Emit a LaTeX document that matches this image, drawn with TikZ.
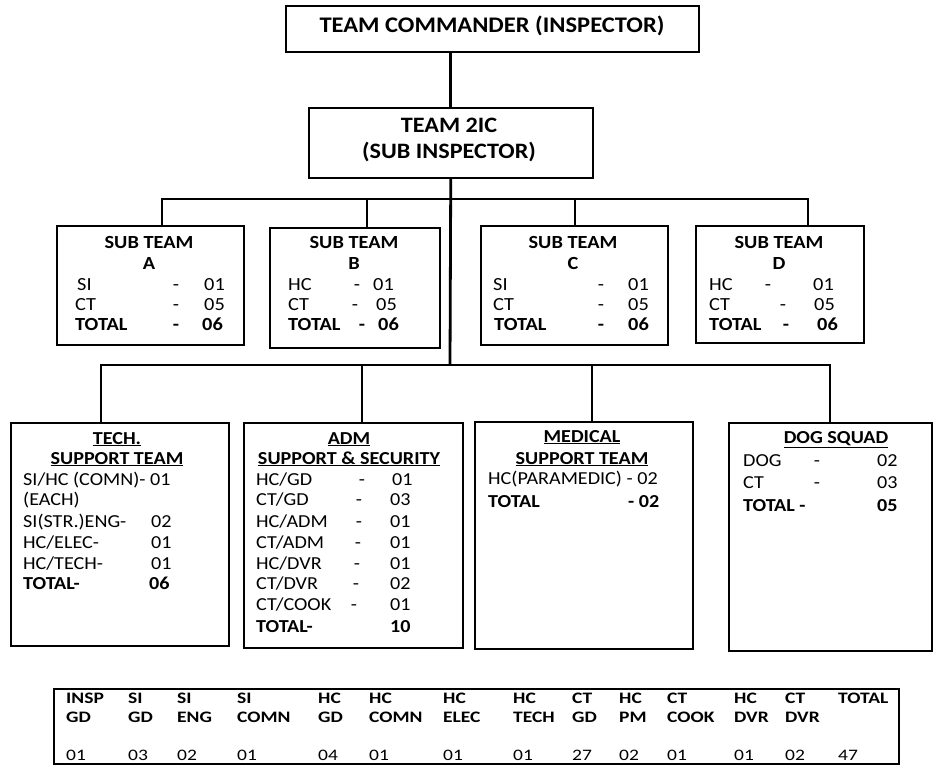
\documentclass[tikz,border=0pt]{standalone}
\usepackage{fontspec}
\setmainfont{Carlito}[FakeStretch=1.1]
\usetikzlibrary{calc}
\newcommand\fTitle{\fontsize{22.3}{26}\selectfont\bfseries}
\newcommand\fIC{\fontsize{22}{25}\selectfont\bfseries}
\newcommand\fSub{\fontsize{18.5}{21}\selectfont}
\newcommand\fBody{\fontsize{18.3}{21}\selectfont}
\newcommand\fTab{\fontsize{16}{18}\selectfont\addfontfeature{FakeStretch=1.22}}
\tikzset{
  box/.style={draw, line width=1.5pt, inner sep=0pt, anchor=north west},
  conn/.style={line width=2.8pt},
  sx/.style={inner sep=0pt, anchor=base west, font=\fSub},
  sc/.style={inner sep=0pt, anchor=base, font=\fSub},
  bx/.style={inner sep=0pt, anchor=base west, font=\fBody},
  bc/.style={inner sep=0pt, anchor=base, font=\fBody},
  tb/.style={inner sep=0pt, anchor=base west, font=\fTab},
}
\begin{document}
\begin{tikzpicture}[x=1pt,y=-1pt]
\useasboundingbox (0,0) rectangle (934,766);
% boxes
\node[box, minimum width=413pt, minimum height=46pt] (top) at (285,5) {};
\node[box, minimum width=284pt, minimum height=70pt] (ic) at (308,107) {};
\node[box, minimum width=187pt, minimum height=119pt] (sa) at (56,225) {};
\node[box, minimum width=170pt, minimum height=120pt] (sb) at (269,227) {};
\node[box, minimum width=187pt, minimum height=119pt] (sc) at (480,225) {};
\node[box, minimum width=168pt, minimum height=117pt] (sd) at (695,225) {};
\node[box, minimum width=218pt, minimum height=223pt] (tech) at (10,422) {};
\node[box, minimum width=219pt, minimum height=225pt] (adm) at (243,422) {};
\node[box, minimum width=218pt, minimum height=227pt] (med) at (474,421) {};
\node[box, minimum width=203pt, minimum height=228pt] (dog) at (728,422) {};
\node[box, minimum width=845pt, minimum height=75pt] (tab) at (53,688) {};
% connectors
\coordinate (bus1) at (450,199);
\coordinate (bus2) at (450,365);
\draw[conn] (top.south -| ic.north) -- (ic.north);
\draw[conn] (ic.south) -- (bus2);
\draw[conn] ([xshift=106pt]sa.north west) |- (bus1) -| ([xshift=113pt]sd.north west);
\draw[conn] ([xshift=98pt]sb.north west) -- ([xshift=98pt]sb.north west |- bus1);
\draw[conn] ([xshift=95pt]sc.north west) -- ([xshift=95pt]sc.north west |- bus1);
\draw[conn] ([xshift=91pt]tech.north west) |- (bus2) -| ([xshift=102pt]dog.north west);
\draw[conn] ([xshift=119pt]adm.north west) -- ([xshift=119pt]adm.north west |- bus2);
\draw[conn] ([xshift=118pt]med.north west) -- ([xshift=118pt]med.north west |- bus2);
% top texts
\node[inner sep=0pt, anchor=base, font=\fTitle] (t1) at (492,32) {TEAM COMMANDER (INSPECTOR)};
\node[inner sep=0pt, anchor=base, font=\fIC] (t2) at (449,132) {TEAM 2IC};
\node[inner sep=0pt, anchor=base, font=\fIC] (t3) at (449,158) {(SUB INSPECTOR)};
% sub team A
\node[sc] (a0) at (149,248) {\bfseries SUB TEAM};
\node[sc] (a1) at (149,269) {\bfseries A};
\node[sx] (a2) at (77,290) {SI};
\node[sx] (a3) at (75,310) {CT};
\node[sx] (a4) at (75,330) {\bfseries TOTAL};
\node[sc] (a5) at (176,290) {-};
\node[sc] (a6) at (176,310) {-};
\node[sc] (a7) at (176,330) {\bfseries -};
\node[sx] (a8) at (204,290) {01};
\node[sx] (a9) at (204,310) {05};
\node[sx] (a10) at (202,330) {\bfseries 06};
% sub team B
\node[sc] (b0) at (354,248) {\bfseries SUB TEAM};
\node[sc] (b1) at (354,269) {\bfseries B};
\node[sx] (b2) at (288,290) {HC};
\node[sx] (b3) at (288,310) {CT};
\node[sx] (b4) at (288,330) {\bfseries TOTAL};
\node[sc] (b5) at (357,290) {-};
\node[sc] (b6) at (355,310) {-};
\node[sc] (b7) at (362,330) {\bfseries -};
\node[sx] (b8) at (373,290) {01};
\node[sx] (b9) at (376,310) {05};
\node[sx] (b10) at (378,330) {\bfseries 06};
% sub team C
\node[sc] (c0) at (573,248) {\bfseries SUB TEAM};
\node[sc] (c1) at (573,269) {\bfseries C};
\node[sx] (c2) at (493,290) {SI};
\node[sx] (c3) at (493,310) {CT};
\node[sx] (c4) at (494,330) {\bfseries TOTAL};
\node[sc] (c5) at (601,290) {-};
\node[sc] (c6) at (601,310) {-};
\node[sc] (c7) at (601,330) {\bfseries -};
\node[sx] (c8) at (628,290) {01};
\node[sx] (c9) at (628,310) {05};
\node[sx] (c10) at (628,330) {\bfseries 06};
% sub team D
\node[sc] (d0) at (779,248) {\bfseries SUB TEAM};
\node[sc] (d1) at (779,269) {\bfseries D};
\node[sx] (d2) at (709,290) {HC};
\node[sx] (d3) at (709,310) {CT};
\node[sx] (d4) at (709,330) {\bfseries TOTAL};
\node[sc] (d5) at (768,290) {-};
\node[sc] (d6) at (783,310) {-};
\node[sc] (d7) at (786,330) {\bfseries -};
\node[sx] (d8) at (813,290) {01};
\node[sx] (d9) at (814,310) {05};
\node[sx] (d10) at (817,330) {\bfseries 06};
% tech
\node[bc] (e0) at (117,444) {\bfseries\underline{TECH.}};
\node[bc] (e1) at (117,464) {\bfseries\underline{SUPPORT TEAM}};
\node[bx] (e2) at (23,485) {SI/HC (COMN)- 01};
\node[bx] (e3) at (23,505) {(EACH)};
\node[bx] (e4) at (23,527) {SI(STR.)ENG-};
\node[bx] (e5) at (23,548) {HC/ELEC-};
\node[bx] (e6) at (23,569) {HC/TECH-};
\node[bx] (e7) at (23,589) {\bfseries TOTAL-};
\node[bx] (e8) at (151,527) {02};
\node[bx] (e9) at (151,548) {01};
\node[bx] (e10) at (151,569) {01};
\node[bx] (e11) at (149,589) {\bfseries 06};
% adm
\node[bc] (f0) at (349,444) {\bfseries\underline{ADM}};
\node[bc] (f1) at (349,464) {\bfseries\underline{SUPPORT \& SECURITY}};
\node[bx] (f2) at (256,485) {HC/GD};
\node[bx] (f3) at (256,505) {CT/GD};
\node[bx] (f4) at (256,527) {HC/ADM};
\node[bx] (f5) at (256,548) {CT/ADM};
\node[bx] (f6) at (256,569) {HC/DVR};
\node[bx] (f7) at (256,589) {CT/DVR};
\node[bx] (f8) at (256,610) {CT/COOK};
\node[bx] (f9) at (256,632) {\bfseries TOTAL-};
\node[bc] (f10) at (362,485) {-};
\node[bc] (f11) at (359,505) {-};
\node[bc] (f12) at (359,527) {-};
\node[bc] (f13) at (358,548) {-};
\node[bc] (f14) at (357,569) {-};
\node[bc] (f15) at (356,589) {-};
\node[bc] (f16) at (354,610) {-};
\node[bx] (f17) at (392,485) {01};
\node[bx] (f18) at (390,505) {03};
\node[bx] (f19) at (390,527) {01};
\node[bx] (f20) at (390,548) {01};
\node[bx] (f21) at (390,569) {01};
\node[bx] (f22) at (390,589) {02};
\node[bx] (f23) at (390,610) {01};
\node[bx] (f24) at (390,632) {\bfseries 10};
% medical
\node[bc] (g0) at (582,442) {\bfseries\underline{MEDICAL}};
\node[bc] (g1) at (582,464) {\bfseries\underline{SUPPORT TEAM}};
\node[bx] (g2) at (488,484) {HC(PARAMEDIC) - 02};
\node[bx] (g3) at (488,507) {\bfseries TOTAL};
\node[bx] (g4) at (628,507) {\bfseries - 02};
% dog
\node[bc] (h0) at (836,443) {\bfseries\underline{DOG SQUAD}};
\node[bx] (h1) at (743,466) {DOG};
\node[bx] (h2) at (743,488) {CT};
\node[bx] (h3) at (743,511) {\bfseries TOTAL -};
\node[bc] (h4) at (817,466) {-};
\node[bc] (h5) at (817,488) {-};
\node[bx] (h6) at (877,466) {02};
\node[bx] (h7) at (877,488) {03};
\node[bx] (h8) at (877,511) {\bfseries 05};
% table
\foreach \x/\a/\b/\v [count=\i] in {66/INSP/GD/01, 128/SI/GD/03, 177/SI/ENG/02, 237/SI/COMN/01, 318/HC/GD/04, 369/HC/COMN/01, 443/HC/ELEC/01, 513/HC/TECH/01, 572/CT/GD/27, 619/HC/PM/02, 667/CT/COOK/01, 734/HC/DVR/01, 785/CT/DVR/02, 838/TOTAL//47}{
  \node[tb] (k\i a) at (\x,703) {\bfseries \a};
  \node[tb] (k\i b) at (\x,722) {\bfseries \b};
  \node[tb] (k\i c) at (\x,760) {\v};
}
\end{tikzpicture}
\end{document}
